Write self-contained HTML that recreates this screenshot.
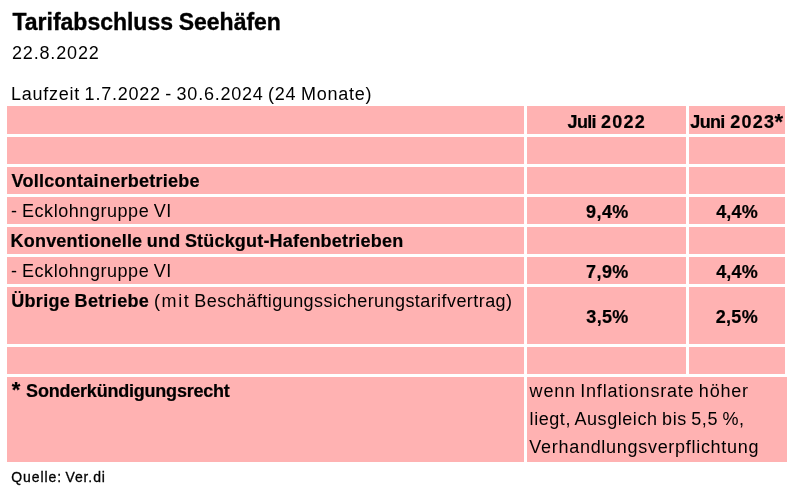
<!DOCTYPE html>
<html lang="de">
<head>
<meta charset="utf-8">
<title>Tarifabschluss Seehäfen</title>
<style>
html,body{margin:0;padding:0;background:#fff;}
body{width:794px;height:496px;position:relative;overflow:hidden;font-family:"Liberation Sans",sans-serif;font-size:18px;color:#000;}
.t{position:absolute;white-space:nowrap;line-height:1;margin:0;padding:0;font-size:18px;font-weight:normal;}
.b{font-weight:bold;-webkit-text-stroke:0.2px #000;}
.s14{font-size:14px;}.s22{font-size:22px;}.s23{font-size:23px;}
.title{-webkit-text-stroke:0.35px #000;}
.source{-webkit-text-stroke:0.3px #000;}
table{position:absolute;left:4px;top:103px;border-collapse:separate;border-spacing:3px;table-layout:fixed;margin:0;padding:0;}
td{position:relative;padding:0;background:#FFB2B2;height:27px;}
tr.h28 td{height:28px;}tr.h57 td{height:57px;}tr.h85 td{height:85px;}
td.wide{box-shadow:2px 0 0 #FFB2B2;}
</style>
</head>
<body>
<h1 class="t b title s23" style="left:12.50px;top:11px;letter-spacing:-0.012px;word-spacing:-0.607px">Tarifabschluss Seehäfen</h1>
<p class="t" style="left:11.95px;top:44px;letter-spacing:0.844px">22.8.2022</p>
<p class="t" style="left:10.95px;top:85px;letter-spacing:0.764px;word-spacing:-1.248px">Laufzeit 1.7.2022 - 30.6.2024 (24 Monate)</p>
<table>
<colgroup><col style="width:517px"><col style="width:159px"><col style="width:96px"></colgroup>
<tr class="h28">
<td></td>
<td><span class="t b" style="left:40.55px;top:7px;letter-spacing:-0.667px">Juli</span> <span class="t b" style="left:74.10px;top:7px;letter-spacing:1.167px">2022</span></td>
<td><span class="t b" style="left:1.35px;top:7px;letter-spacing:-0.667px">Juni</span> <span class="t b" style="left:41.30px;top:7px;letter-spacing:1.250px">2023</span><span class="t b s22" style="left:85.40px;top:5px;letter-spacing:0.000px">*</span></td>
</tr>
<tr>
<td></td>
<td></td>
<td></td>
</tr>
<tr>
<td><span class="t b" style="left:4.60px;top:5px;letter-spacing:0.262px">Vollcontainerbetriebe</span></td>
<td></td>
<td></td>
</tr>
<tr>
<td><span class="t" style="left:3.95px;top:5px;letter-spacing:0.550px;word-spacing:-1.034px">- Ecklohngruppe VI</span></td>
<td><span class="t b" style="left:59.10px;top:6px;letter-spacing:0.417px">9,4%</span></td>
<td><span class="t b" style="left:27.20px;top:6px;letter-spacing:0.167px">4,4%</span></td>
</tr>
<tr>
<td><span class="t b" style="left:3.60px;top:5px;letter-spacing:0.192px;word-spacing:-0.677px">Konventionelle und Stückgut-Hafenbetrieben</span></td>
<td></td>
<td></td>
</tr>
<tr>
<td><span class="t" style="left:3.95px;top:5px;letter-spacing:0.550px;word-spacing:-1.034px">- Ecklohngruppe VI</span></td>
<td><span class="t b" style="left:59.10px;top:6px;letter-spacing:0.417px">7,9%</span></td>
<td><span class="t b" style="left:27.20px;top:6px;letter-spacing:0.167px">4,4%</span></td>
</tr>
<tr class="h57">
<td><span class="t b" style="left:4.25px;top:5px;letter-spacing:0.308px;word-spacing:-0.792px">Übrige Betriebe</span> <span class="t" style="left:147.00px;top:5px;letter-spacing:1.583px">(mit</span> <span class="t" style="left:187.35px;top:5px;letter-spacing:0.431px">Beschäftigungssicherungstarifvertrag)</span></td>
<td><span class="t b" style="left:59.35px;top:21px;letter-spacing:0.333px">3,5%</span></td>
<td><span class="t b" style="left:26.70px;top:21px;letter-spacing:0.333px">2,5%</span></td>
</tr>
<tr>
<td></td>
<td></td>
<td></td>
</tr>
<tr class="h85">
<td><span class="t b s22" style="left:4.70px;top:2px;letter-spacing:0.000px">*</span> <span class="t b" style="left:19.10px;top:5px;letter-spacing:-0.212px">Sonderkündigungsrecht</span></td>
<td colspan="2" class="wide"><span class="t" style="left:2.60px;top:5px;letter-spacing:0.784px;word-spacing:-1.268px">wenn Inflationsrate höher</span> <span class="t" style="left:2.60px;top:33px;letter-spacing:0.557px;word-spacing:-1.041px">liegt, Ausgleich bis 5,5 %,</span> <span class="t" style="left:2.35px;top:61px;letter-spacing:0.708px">Verhandlungsverpflichtung</span></td>
</tr>
</table>
<p class="t source s14" style="left:11.30px;top:470px;letter-spacing:0.896px;word-spacing:-1.272px">Quelle: Ver.di</p>
</body>
</html>
